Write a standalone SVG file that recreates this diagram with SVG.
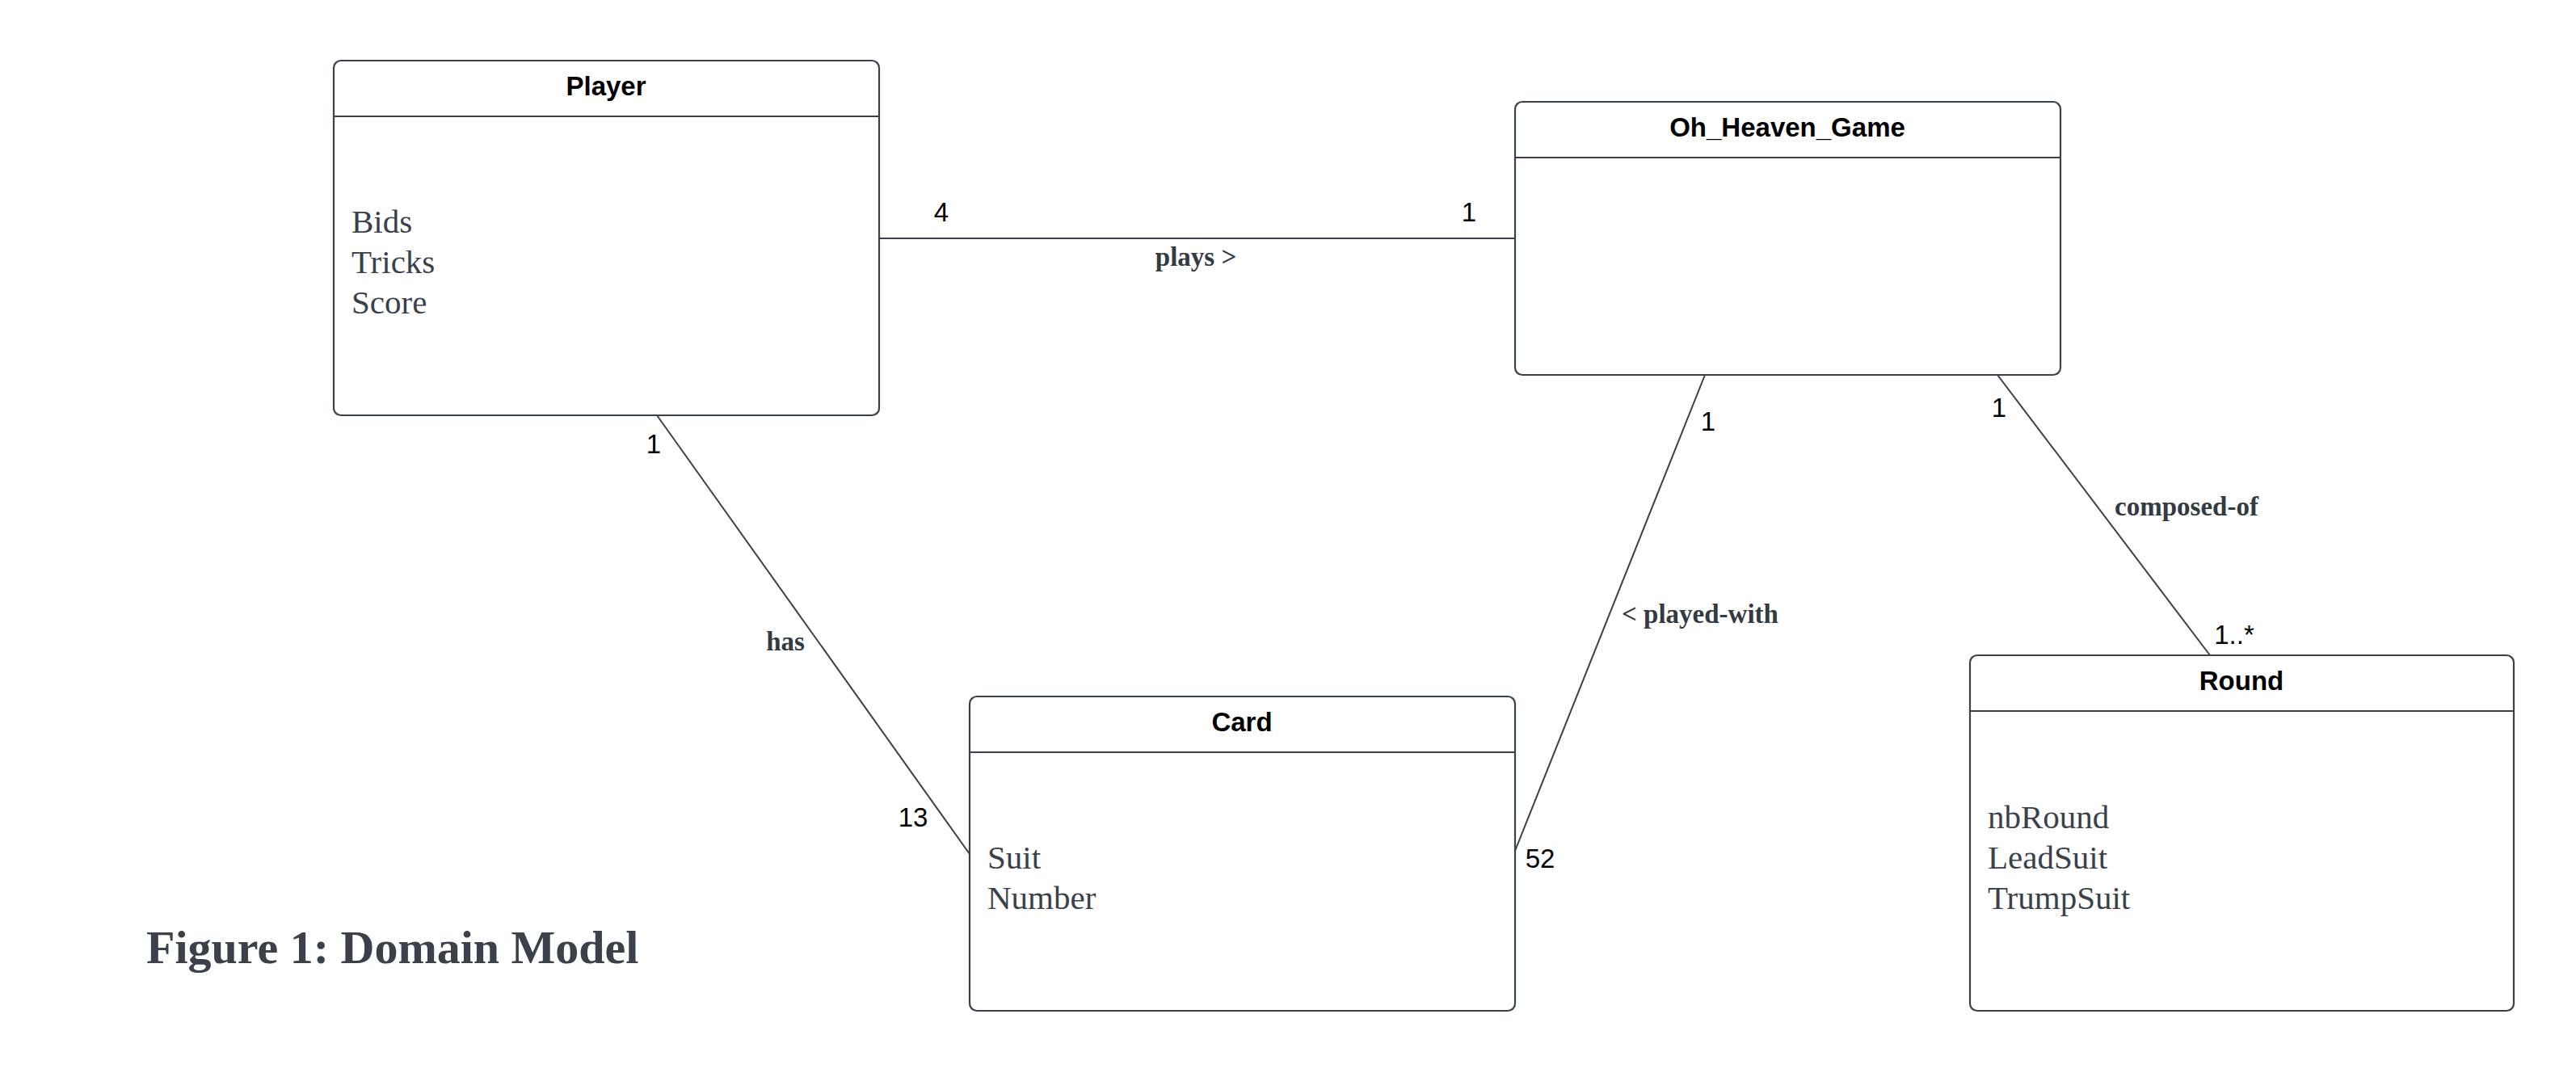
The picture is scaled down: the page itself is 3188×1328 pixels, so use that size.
<svg xmlns="http://www.w3.org/2000/svg" width="3188" height="1328" viewBox="0 0 3188 1328">
<style>
.box{fill:#ffffff;stroke:#3a414a;stroke-width:2.2}
.sep{stroke:#3a414a;stroke-width:2.2}
.title{font-family:"Liberation Sans",Arial,sans-serif;font-weight:bold;font-size:33px;fill:#000;text-anchor:middle}
.attr{font-family:"Liberation Serif","Times New Roman",serif;font-size:41px;fill:#3a414a}
.edge{stroke:#3a414a;stroke-width:2;fill:none}
.mult{font-family:"Liberation Sans",Arial,sans-serif;font-size:33px;fill:#000;text-anchor:middle}
.lbl{font-family:"Liberation Serif","Times New Roman",serif;font-weight:bold;font-size:33px;fill:#333a42;text-anchor:middle}
.cap{font-family:"Liberation Serif","Times New Roman",serif;font-weight:bold;font-size:58px;fill:#3a414a}
</style>
<rect width="3188" height="1328" fill="#ffffff"/>
<g id="connectors">
<line class="edge" x1="1088" y1="295" x2="1875" y2="295"/>
<line class="edge" x1="813" y1="514" x2="1200" y2="1057"/>
<line class="edge" x1="2110" y1="464" x2="1875" y2="1053"/>
<line class="edge" x1="2472" y1="464" x2="2735" y2="811"/>
<text class="mult" x="1165" y="274">4</text>
<text class="mult" x="1818" y="274">1</text>
<text class="lbl" x="1480" y="329">plays &gt;</text>
<text class="mult" x="809" y="561">1</text>
<text class="mult" x="1130" y="1023">13</text>
<text class="lbl" x="972" y="805">has</text>
<text class="mult" x="2114" y="533">1</text>
<text class="mult" x="1906" y="1074">52</text>
<text class="lbl" x="2104" y="771">&lt; played-with</text>
<text class="mult" x="2474" y="516">1</text>
<text class="mult" x="2765" y="797">1..*</text>
<text class="lbl" x="2706" y="638">composed-of</text>
</g>
<g id="Player">
<rect class="box" x="413" y="75" width="675" height="439" rx="9"/>
<line class="sep" x1="413" y1="144" x2="1088" y2="144"/>
<text class="title" x="750" y="118">Player</text>
<text class="attr" x="435" y="288">Bids</text>
<text class="attr" x="435" y="338">Tricks</text>
<text class="attr" x="435" y="388">Score</text>
</g>
<g id="Oh_Heaven_Game">
<rect class="box" x="1875" y="126" width="675" height="338" rx="9"/>
<line class="sep" x1="1875" y1="195" x2="2550" y2="195"/>
<text class="title" x="2212" y="169">Oh_Heaven_Game</text>
</g>
<g id="Card">
<rect class="box" x="1200" y="862" width="675" height="389" rx="9"/>
<line class="sep" x1="1200" y1="931" x2="1875" y2="931"/>
<text class="title" x="1537" y="905">Card</text>
<text class="attr" x="1222" y="1075">Suit</text>
<text class="attr" x="1222" y="1125">Number</text>
</g>
<g id="Round">
<rect class="box" x="2438" y="811" width="673" height="440" rx="9"/>
<line class="sep" x1="2438" y1="880" x2="3111" y2="880"/>
<text class="title" x="2774" y="854">Round</text>
<text class="attr" x="2460" y="1025">nbRound</text>
<text class="attr" x="2460" y="1075">LeadSuit</text>
<text class="attr" x="2460" y="1125">TrumpSuit</text>
</g>
<g id="caption">
<text class="cap" x="181" y="1192">Figure 1: Domain Model</text>
</g>
</svg>
